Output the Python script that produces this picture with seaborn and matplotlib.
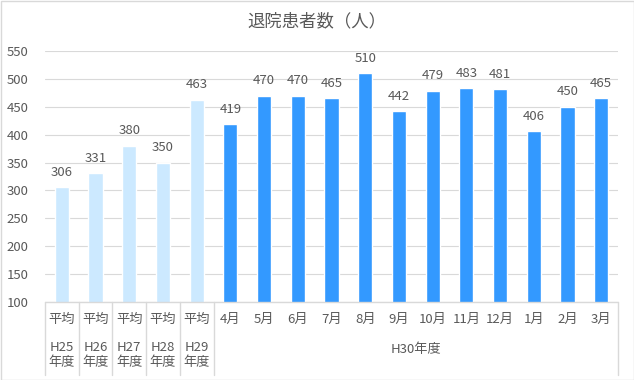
import matplotlib
matplotlib.use("Agg")
import matplotlib.pyplot as plt
import matplotlib.transforms as mtransforms
import seaborn as sns
import pandas as pd

row1 = ['平均', '平均', '平均', '平均', '平均', '4月', '5月', '6月', '7月', '8月', '9月',
        '10月', '11月', '12月', '1月', '2月', '3月']
years = ['H25\n年度', 'H26\n年度', 'H27\n年度', 'H28\n年度', 'H29\n年度']
group_label = 'H30年度'
values = [306, 331, 380, 350, 463, 419, 470, 470, 465, 510, 442, 479, 483, 481, 406, 450, 465]
kinds = ['avg'] * 5 + ['month'] * 12

df = pd.DataFrame({'key': [f'c{i}' for i in range(len(values))], 'value': values, 'kind': kinds})

sns.set_style('white')
plt.rcParams['font.family'] = ['Noto Sans CJK JP', 'DejaVu Sans']
txt = '#595959'
fs = 9.5

fig = plt.figure(figsize=(6.34, 3.80), dpi=100)
ax = fig.add_axes([45 / 634, 78 / 380, 573 / 634, 251 / 380])

sns.barplot(data=df, x='key', y='value', hue='kind',
            palette={'avg': '#CCE9FF', 'month': '#3399FF'}, saturation=1,
            width=0.42, legend=False, ax=ax, dodge=False)

ax.set_ylim(100, 550)
ax.set_xlim(-0.5, len(values) - 0.5)
ax.set_yticks(range(100, 551, 50))
ax.yaxis.grid(True, color='#D9D9D9', linewidth=0.8)
ax.set_axisbelow(True)
for s in ax.spines.values():
    s.set_visible(False)
ax.tick_params(axis='y', length=0, pad=12, labelsize=fs, labelcolor=txt)
ax.tick_params(axis='x', length=0, pad=8, labelsize=fs, labelcolor=txt)
ax.set_xticks(range(len(values)))
ax.set_xticklabels(row1)
ax.set_xlabel('')
ax.set_ylabel('')

for c in ax.containers:
    ax.bar_label(c, fmt='%d', padding=6, fontsize=fs, color=txt)

# category axis: second level labels and separators
tr = mtransforms.blended_transform_factory(ax.transData, ax.transAxes)
ybot = -(375 - 302) / 251
ax.plot([-0.5, len(values) - 0.5], [0, 0], transform=tr, color='#D9D9D9', lw=1, clip_on=False)
for x in [-0.5, 0.5, 1.5, 2.5, 3.5, 4.5, len(values) - 0.5]:
    ax.plot([x, x], [0, ybot], transform=tr, color='#D9D9D9', lw=1, clip_on=False)
for i, lab in enumerate(years):
    ax.text(i, -(355 - 302) / 251, lab, transform=tr, ha='center', va='center',
            fontsize=fs, color=txt, linespacing=1.2)
ax.text((5 + len(values) - 1) / 2, -(349 - 302) / 251, group_label, transform=tr,
        ha='center', va='center', fontsize=fs, color=txt)

fig.text(0.5, 1 - 21 / 380, '退院患者数（人）', ha='center', va='center', fontsize=12.5, color=txt)
fig.patches.append(plt.Rectangle((0.5 / 634, 0.5 / 380), 633 / 634, 379 / 380, transform=fig.transFigure,
                                 fill=False, edgecolor='#D9D9D9', lw=1))

fig.savefig('out.png', dpi=100)
